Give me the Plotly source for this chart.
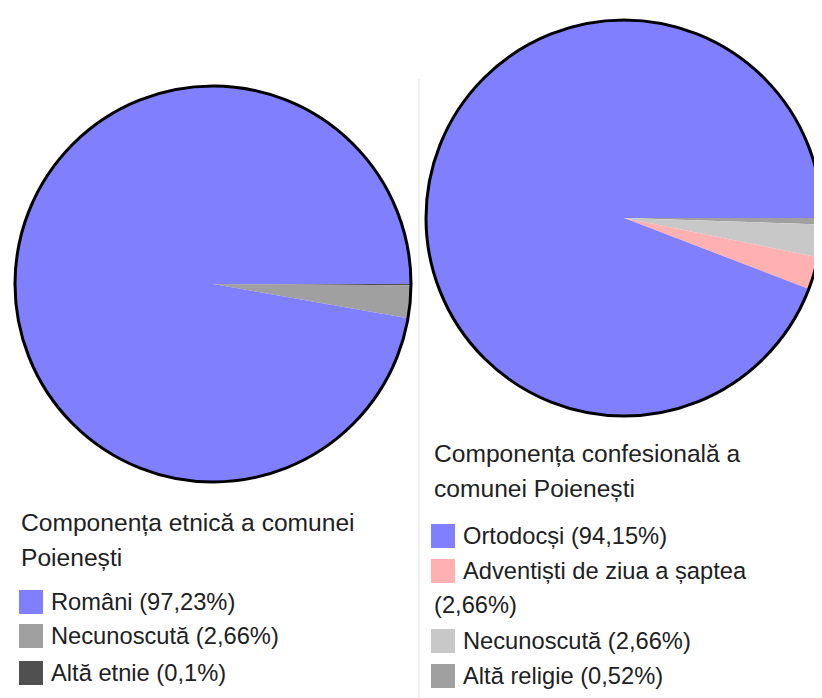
import plotly.graph_objects as go

# browser window and the page's default body margin
WIN_W, WIN_H = 822, 698
OFF = 8
W, H = WIN_W - OFF, WIN_H - OFF

# ---- data ----
eth_title = ["Componența etnică a comunei", "Poienești"]
eth_labels = ["Români", "Necunoscută", "Altă etnie"]
eth_values = [97.23, 2.66, 0.1]
eth_colors = ["#8080ff", "#a0a0a0", "#505050"]

rel_title = ["Componența confesională a", "comunei Poienești"]
rel_labels = ["Ortodocși", "Adventiști de ziua a șaptea", "Necunoscută", "Altă religie"]
rel_values = [94.15, 2.66, 2.66, 0.52]
rel_colors = ["#8080ff", "#ffb0b0", "#c8c8c8", "#a0a0a0"]

FONT = "Liberation Sans, Arial, sans-serif"
TXT = "#202122"


def px_x(x):
    return (x - OFF) / W


def px_y(y):
    return 1 - (y - OFF) / H


def fmt(v):
    return f"{v:g}".replace(".", ",")


fig = go.Figure()
shapes = []
annotations = []


def add_pie(labels, values, colors, cx, cy, r):
    # slices run counterclockwise from 3 o'clock in the original; drawing the
    # reversed series clockwise from 3 o'clock gives the same layout
    fig.add_trace(go.Pie(
        labels=labels[::-1], values=values[::-1], sort=False, direction="clockwise",
        rotation=90, textinfo="none", hoverinfo="label+percent",
        marker=dict(colors=colors[::-1], line=dict(width=0)),
        showlegend=False,
        domain=dict(x=[max(0.0, px_x(cx - r)), min(1.0, px_x(cx + r))],
                    y=[max(0.0, px_y(cy + r)), min(1.0, px_y(cy - r))]),
    ))
    shapes.append(dict(type="circle", xref="paper", yref="paper",
                       x0=px_x(cx - r), x1=px_x(cx + r),
                       y0=px_y(cy + r), y1=px_y(cy - r),
                       line=dict(color="#000000", width=3), layer="above"))


def text(x, y, s, size=23.7):
    annotations.append(dict(x=px_x(x), y=px_y(y), xref="paper", yref="paper",
                            xanchor="left", yanchor="middle", showarrow=False,
                            text=s, font=dict(family=FONT, size=size, color=TXT)))


def swatch(x, y, color):
    shapes.append(dict(type="rect", xref="paper", yref="paper",
                       x0=px_x(x), x1=px_x(x + 24), y0=px_y(y + 24), y1=px_y(y),
                       fillcolor=color, line=dict(width=0)))


# left pie
add_pie(eth_labels, eth_values, eth_colors, 213, 284, 198)
# right pie
add_pie(rel_labels, rel_values, rel_colors, 624, 218, 198)

# separator
shapes.append(dict(type="line", xref="paper", yref="paper",
                   x0=px_x(419), x1=px_x(419), y0=0, y1=px_y(79),
                   line=dict(color="#e2e2e2", width=1)))

# left legend
text(19, 522, eth_title[0], 24.6)
text(19, 557, eth_title[1], 24.6)
ly = [590, 624, 661]
for lab, val, col, y in zip(eth_labels, eth_values, eth_colors, ly):
    swatch(19, y, col)
    text(49, y + 12, f"{lab} ({fmt(val)}%)")

# right legend
text(432, 453, rel_title[0], 24.6)
text(432, 488, rel_title[1], 24.6)
ry = [524, 559, 629, 664]
for lab, val, col, y in zip(rel_labels, rel_values, rel_colors, ry):
    swatch(431, y, col)
    full = f"{lab} ({fmt(val)}%)"
    if len(full) > 24:
        text(461, y + 12, lab)
        text(432, y + 46, f"({fmt(val)}%)")
    else:
        text(461, y + 12, full)

fig.update_layout(
    width=W, height=H, margin=dict(l=0, r=0, t=0, b=0),
    paper_bgcolor="white", plot_bgcolor="white",
    shapes=shapes, annotations=annotations,
)

fig.write_html("out.html")
